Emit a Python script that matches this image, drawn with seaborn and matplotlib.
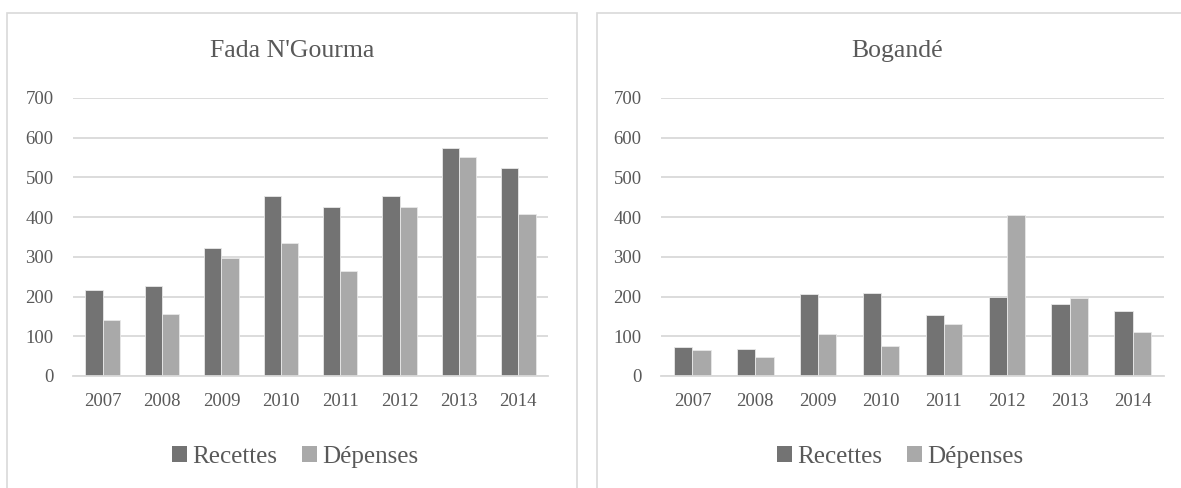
import pandas as pd
import matplotlib.pyplot as plt
import seaborn as sns
from matplotlib.patches import Rectangle, Patch

# Values
annees = ['2007', '2008', '2009', '2010', '2011', '2012', '2013', '2014']
fada_recettes = [217, 227, 322, 453, 425, 453, 574, 523]
fada_depenses = [141, 156, 297, 334, 264, 425, 551, 408]
bogande_recettes = [73, 68, 207, 208, 153, 199, 182, 163]
bogande_depenses = [65, 49, 106, 76, 131, 406, 196, 110]
series = ['Recettes', 'Dépenses']
titres = ["Fada N'Gourma", 'Bogandé']

couleurs = ['#737373', '#a9a9a9']
texte = '#595959'

sns.set_theme(style='white')
plt.rcParams['font.family'] = ['Liberation Serif', 'DejaVu Serif']

fig = plt.figure(figsize=(11.81, 4.88), dpi=100)
W, H = 1181, 488


def px_box(x0, y0, x1, y1):
    # pixel box (top-left origin) to figure fraction [left, bottom, w, h]
    return [x0 / W, 1 - y1 / H, (x1 - x0) / W, (y1 - y0) / H]


panneaux = [
    dict(box=(7, 13, 577, 500), ax=(73, 98, 548, 376),
         rec=fada_recettes, dep=fada_depenses),
    dict(box=(597, 13, 1197, 500), ax=(661, 98, 1164, 376),
         rec=bogande_recettes, dep=bogande_depenses),
]

for titre, p in zip(titres, panneaux):
    # panel frame
    bx = px_box(*p['box'])
    fig.patches.append(Rectangle((bx[0], bx[1]), bx[2], bx[3], transform=fig.transFigure,
                                 fill=False, edgecolor='#d9d9d9', linewidth=1.2))

    df = pd.DataFrame({
        'Année': annees * 2,
        'Valeur': p['rec'] + p['dep'],
        'Type': [series[0]] * len(annees) + [series[1]] * len(annees),
    })

    ax = fig.add_axes(px_box(*p['ax']))
    sns.barplot(data=df, x='Année', y='Valeur', hue='Type', palette=couleurs,
                width=0.58, edgecolor='#e8e8e8', linewidth=0.6, ax=ax, legend=False)
    ax.set_ylim(0, 700)
    ax.set_yticks(range(0, 701, 100))
    ax.set_xlim(-0.5, len(annees) - 0.5)
    ax.yaxis.grid(True, color='#d9d9d9', linewidth=1.3)
    ax.set_axisbelow(True)
    for s in ['top', 'right', 'left']:
        ax.spines[s].set_visible(False)
    ax.spines['bottom'].set_color('#d9d9d9')
    ax.spines['bottom'].set_linewidth(1.3)
    ax.set_xlabel('')
    ax.set_ylabel('')
    ax.tick_params(axis='both', length=0, labelsize=13.5, labelcolor=texte)
    ax.tick_params(axis='x', pad=12)
    ax.tick_params(axis='y', pad=14)

    cx = (bx[0] + bx[0] + bx[2]) / 2
    fig.text(cx, 1 - 51 / H, titre, ha='center', va='center', fontsize=18.5, color=texte)

    handles = [Patch(facecolor=c, edgecolor='none') for c in couleurs]
    fig.legend(handles, series, loc='center', bbox_to_anchor=(cx + 3 / W, 1 - 457 / H),
               ncol=2, frameon=False, fontsize=18, labelcolor=texte,
               handlelength=0.6, handleheight=0.6, handletextpad=0.2, columnspacing=1.0)

plt.savefig('out.png', dpi=100)
